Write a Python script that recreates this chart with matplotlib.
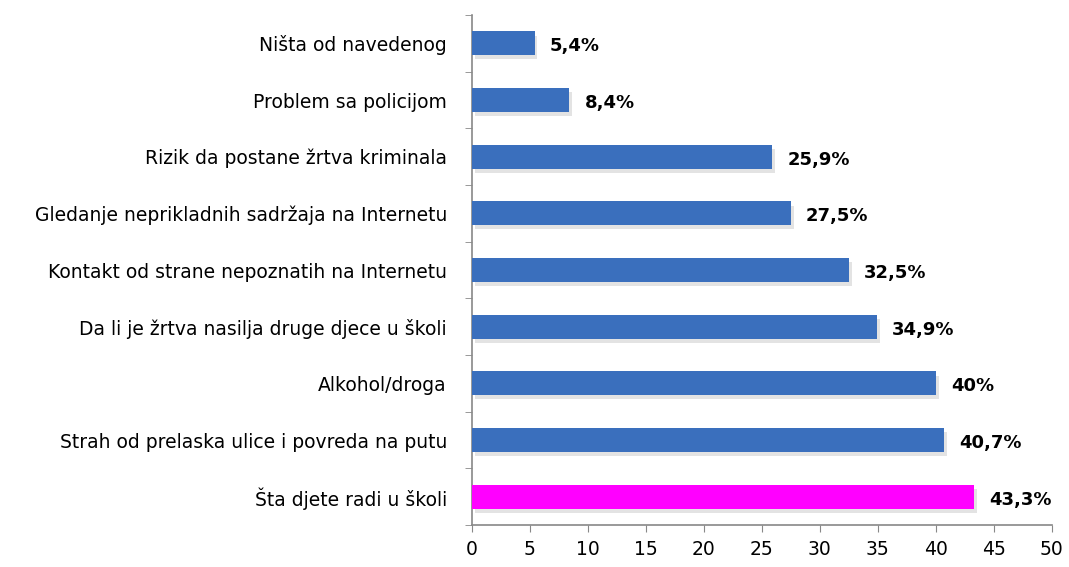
import matplotlib.pyplot as plt
import matplotlib.patheffects as pe
import numpy as np

categories = [
    "Ništa od navedenog",
    "Problem sa policijom",
    "Rizik da postane žrtva kriminala",
    "Gledanje neprikladnih sadržaja na Internetu",
    "Kontakt od strane nepoznatih na Internetu",
    "Da li je žrtva nasilja druge djece u školi",
    "Alkohol/droga",
    "Strah od prelaska ulice i povreda na putu",
    "Šta djete radi u školi",
]
values = [5.4, 8.4, 25.9, 27.5, 32.5, 34.9, 40.0, 40.7, 43.3]
value_labels = ["5,4%", "8,4%", "25,9%", "27,5%", "32,5%", "34,9%", "40%", "40,7%", "43,3%"]
colors = ["#3a6fbd"] * 8 + ["#ff00ff"]

plt.rcParams["font.family"] = ["DejaVu Sans"]

fig = plt.figure(figsize=(10.69, 5.67), dpi=100)
ax = fig.add_axes([0.4415, 0.074, 0.5425, 0.8995])

y = np.arange(len(categories))
bars = ax.barh(y, values, height=0.42, color=colors, edgecolor="none", zorder=3)
for b in bars:
    b.set_path_effects([pe.SimplePatchShadow(offset=(2, -3), shadow_rgbFace="#c8c8c8", alpha=0.5),
                        pe.Normal()])

for yi, v, lab in zip(y, values, value_labels):
    ax.text(v + 1.3, yi + 0.05, lab, va="center", ha="left", fontsize=13,
            fontweight="bold", color="black")

ax.set_xlim(0, 50)
ax.set_ylim(len(categories) - 0.5, -0.5)
ax.set_xticks(range(0, 51, 5))
ax.set_yticks(y)
ax.set_yticklabels(categories, fontsize=13.5)
ax.set_yticks(np.arange(-0.5, len(categories), 1), minor=True)
ax.tick_params(axis="y", which="major", length=0, pad=18)
ax.tick_params(axis="y", which="minor", length=5, color="#888888", direction="out")
ax.tick_params(axis="x", length=5, color="#888888", labelsize=13.5, pad=6)

for s in ("top", "right"):
    ax.spines[s].set_visible(False)
for s in ("left", "bottom"):
    ax.spines[s].set_color("#888888")
    ax.spines[s].set_linewidth(1.2)

fig.savefig("out.png", dpi=100)
